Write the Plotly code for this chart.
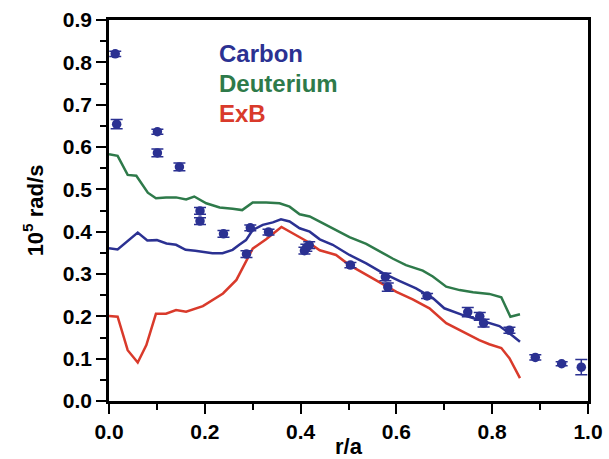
import plotly.graph_objects as go

# Measured carbon rotation (points with error bars)
pts_x = [0.013, 0.016, 0.101, 0.101, 0.147, 0.190, 0.190, 0.239, 0.287, 0.295, 0.333,
         0.408, 0.412, 0.418, 0.504, 0.577, 0.582, 0.664, 0.749, 0.774, 0.782, 0.836,
         0.890, 0.945, 0.986]
pts_y = [0.820, 0.654, 0.636, 0.586, 0.553, 0.449, 0.425, 0.395, 0.347, 0.409, 0.399,
         0.355, 0.362, 0.368, 0.321, 0.293, 0.269, 0.248, 0.210, 0.200, 0.184, 0.167,
         0.103, 0.088, 0.080]
pts_err = [0.006, 0.011, 0.006, 0.009, 0.009, 0.008, 0.008, 0.008, 0.008, 0.007, 0.007,
           0.008, 0.008, 0.008, 0.006, 0.009, 0.010, 0.006, 0.011, 0.009, 0.009, 0.007,
           0.006, 0.005, 0.018]

# Carbon (model) line
c_x = [0.0, 0.018, 0.06, 0.08, 0.10, 0.12, 0.14, 0.16, 0.18, 0.216, 0.237, 0.258, 0.272,
       0.286, 0.30, 0.321, 0.342, 0.359, 0.377, 0.398, 0.419, 0.44, 0.467, 0.502, 0.537,
       0.572, 0.606, 0.641, 0.676, 0.70, 0.739, 0.774, 0.815, 0.836, 0.858]
c_y = [0.361, 0.358, 0.398, 0.379, 0.380, 0.372, 0.369, 0.357, 0.355, 0.349, 0.349, 0.357,
       0.369, 0.380, 0.404, 0.416, 0.422, 0.429, 0.424, 0.408, 0.400, 0.382, 0.369, 0.345,
       0.325, 0.302, 0.284, 0.266, 0.243, 0.219, 0.203, 0.191, 0.177, 0.160, 0.140]

# Deuterium line
d_x = [0.0, 0.018, 0.039, 0.057, 0.081, 0.098, 0.119, 0.14, 0.161, 0.178, 0.203, 0.231,
       0.258, 0.278, 0.30, 0.328, 0.356, 0.377, 0.398, 0.419, 0.446, 0.474, 0.502, 0.537,
       0.565, 0.593, 0.62, 0.655, 0.676, 0.704, 0.732, 0.76, 0.794, 0.819, 0.838, 0.858]
d_y = [0.583, 0.579, 0.534, 0.532, 0.492, 0.479, 0.481, 0.481, 0.476, 0.483, 0.467, 0.457,
       0.454, 0.451, 0.469, 0.469, 0.467, 0.459, 0.441, 0.436, 0.420, 0.404, 0.387, 0.371,
       0.353, 0.336, 0.321, 0.308, 0.294, 0.270, 0.262, 0.257, 0.253, 0.245, 0.199, 0.205]

# ExB line
e_x = [0.0, 0.018, 0.039, 0.06, 0.078, 0.098, 0.119, 0.14, 0.161, 0.196, 0.238, 0.266,
       0.30, 0.328, 0.360, 0.384, 0.412, 0.44, 0.474, 0.502, 0.537, 0.565, 0.60, 0.634,
       0.669, 0.704, 0.739, 0.773, 0.794, 0.819, 0.836, 0.858]
e_y = [0.201, 0.199, 0.120, 0.091, 0.132, 0.206, 0.206, 0.215, 0.211, 0.224, 0.254, 0.286,
       0.360, 0.382, 0.411, 0.396, 0.378, 0.356, 0.345, 0.321, 0.299, 0.282, 0.258, 0.240,
       0.219, 0.184, 0.164, 0.144, 0.134, 0.125, 0.101, 0.054]

legend_names = ["Carbon", "Deuterium", "ExB"]

BLUE = "#2B3192"
GREEN = "#2E7A4A"
RED = "#D93A2B"
FONT = "Liberation Sans, Arial, sans-serif"

fig = go.Figure()
fig.add_trace(go.Scatter(x=d_x, y=d_y, mode="lines", line=dict(color=GREEN, width=2.5),
                         showlegend=False))
fig.add_trace(go.Scatter(x=e_x, y=e_y, mode="lines", line=dict(color=RED, width=2.5),
                         showlegend=False))
fig.add_trace(go.Scatter(x=c_x, y=c_y, mode="lines", line=dict(color=BLUE, width=2.5),
                         showlegend=False))
fig.add_trace(go.Scatter(x=pts_x, y=pts_y, mode="markers",
                         marker=dict(color=BLUE, size=9.5),
                         error_y=dict(type="data", array=pts_err, visible=True,
                                      color=BLUE, thickness=1.5, width=6),
                         showlegend=False))

for txt, col, yy in zip(legend_names, [BLUE, GREEN, RED], [0.821, 0.750, 0.679]):
    fig.add_annotation(x=0.226, y=yy, xref="x", yref="y", text=txt, showarrow=False,
                       xanchor="left", yanchor="middle",
                       font=dict(family=FONT, size=24, color=col, weight="bold"))

fig.update_layout(
    width=609, height=459,
    margin=dict(l=109, r=21, t=20, b=58),
    paper_bgcolor="white", plot_bgcolor="white",
    font=dict(family=FONT, size=21, color="black", weight="bold"),
    xaxis=dict(range=[0, 1.0], tickvals=[0, 0.2, 0.4, 0.6, 0.8, 1.0],
               ticktext=["0.0", "0.2", "0.4", "0.6", "0.8", "1.0"],
               ticks="outside", ticklen=10, tickwidth=2, tickcolor="black",
               minor=dict(tickvals=[0.1, 0.3, 0.5, 0.7, 0.9], ticks="outside",
                          ticklen=6, tickwidth=2, tickcolor="black"),
               showline=True, linewidth=2.5, linecolor="black", mirror=True,
               showgrid=False, zeroline=False, automargin=False,
               title=dict(text="r/a", standoff=2,
                          font=dict(family=FONT, size=22, color="black", weight="bold"))),
    yaxis=dict(range=[0, 0.9], tickvals=[0, 0.1, 0.2, 0.3, 0.4, 0.5, 0.6, 0.7, 0.8, 0.9],
               ticktext=["0.0", "0.1", "0.2", "0.3", "0.4", "0.5", "0.6", "0.7", "0.8", "0.9"],
               ticks="outside", ticklen=10, tickwidth=2, tickcolor="black",
               minor=dict(tickvals=[0.05, 0.15, 0.25, 0.35, 0.45, 0.55, 0.65, 0.75, 0.85],
                          ticks="outside", ticklen=6, tickwidth=2, tickcolor="black"),
               showline=True, linewidth=2.5, linecolor="black", mirror=True,
               showgrid=False, zeroline=False, automargin=False,
               title=dict(text="10<sup>5</sup> rad/s", standoff=14,
                          font=dict(family=FONT, size=22, color="black", weight="bold"))),
)

fig.write_html("out.html")
